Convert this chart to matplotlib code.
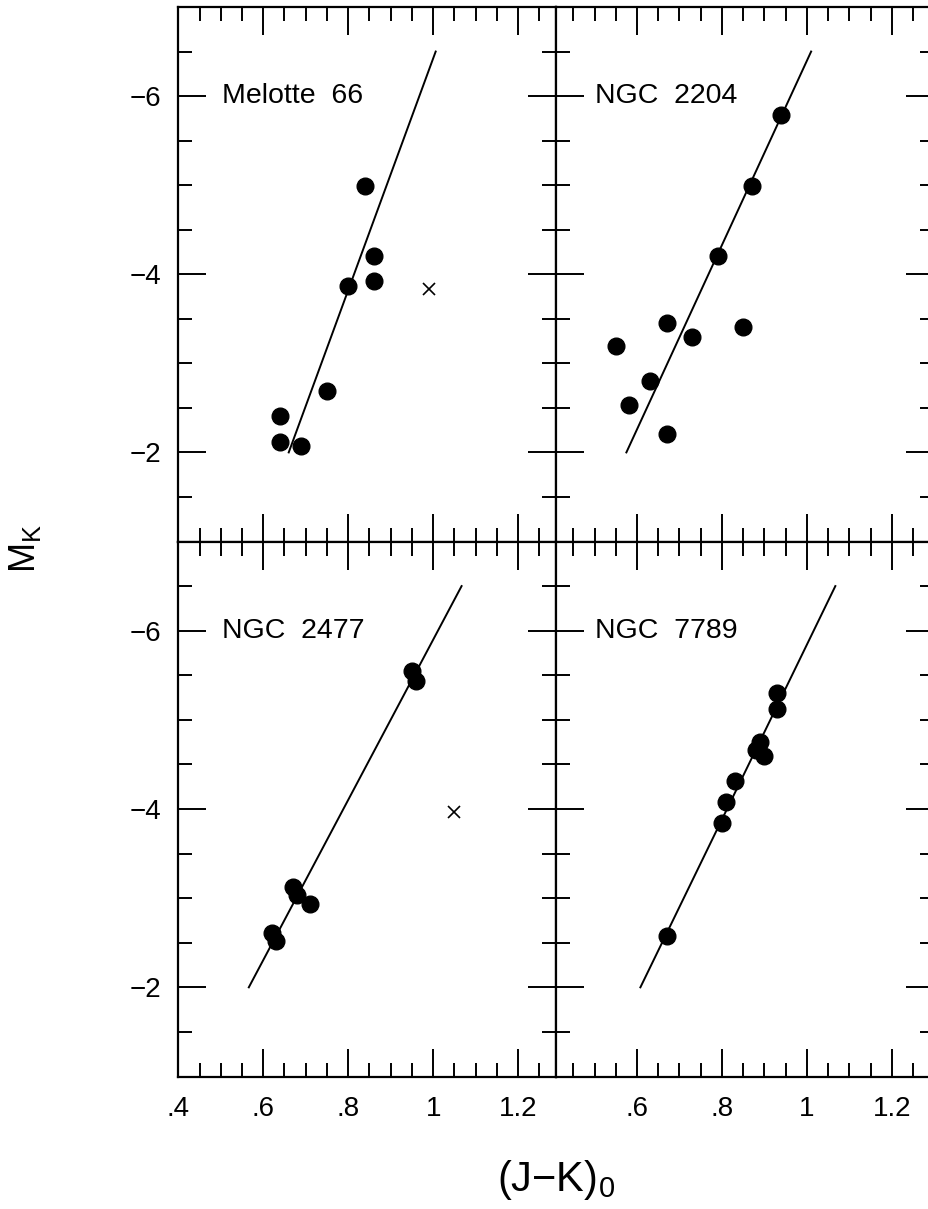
import numpy as np
import matplotlib
matplotlib.use('Agg')
import matplotlib.pyplot as plt
from matplotlib.ticker import FixedLocator, FixedFormatter, MultipleLocator

plt.rcParams['font.family'] = ['Liberation Sans', 'DejaVu Sans']
plt.rcParams['mathtext.fontset'] = 'custom'
plt.rcParams['mathtext.rm'] = 'Liberation Sans'
plt.rcParams['mathtext.it'] = 'Liberation Sans'

# dados: (J-K)0 e M_K de cada aglomerado
mel66_jk = [0.84, 0.86, 0.86, 0.80, 0.75, 0.64, 0.64, 0.69]
mel66_mk = [-4.99, -4.20, -3.92, -3.87, -2.69, -2.41, -2.12, -2.07]
mel66_cruz_jk = [0.99]
mel66_cruz_mk = [-3.83]
mel66_reta_jk = [0.66, 1.006]
mel66_reta_mk = [-2.0, -6.5]

ngc2204_jk = [0.94, 0.87, 0.79, 0.67, 0.73, 0.85, 0.55, 0.63, 0.58, 0.67]
ngc2204_mk = [-5.79, -4.99, -4.21, -3.45, -3.30, -3.41, -3.19, -2.80, -2.53, -2.21]
ngc2204_reta_jk = [0.575, 1.01]
ngc2204_reta_mk = [-2.0, -6.5]

ngc2477_jk = [0.95, 0.96, 0.67, 0.68, 0.71, 0.62, 0.63]
ngc2477_mk = [-5.55, -5.43, -3.12, -3.03, -2.93, -2.61, -2.52]
ngc2477_cruz_jk = [1.05]
ngc2477_cruz_mk = [-3.97]
ngc2477_reta_jk = [0.566, 1.067]
ngc2477_reta_mk = [-2.0, -6.5]

ngc7789_jk = [0.93, 0.93, 0.89, 0.88, 0.90, 0.83, 0.81, 0.80, 0.67]
ngc7789_mk = [-5.30, -5.12, -4.75, -4.66, -4.60, -4.31, -4.08, -3.84, -2.58]
ngc7789_reta_jk = [0.608, 1.067]
ngc7789_reta_mk = [-2.0, -6.5]

xticks = [0.4, 0.6, 0.8, 1.0, 1.2]
xtick_labels = ['.4', '.6', '.8', '1', '1.2']
yticks = [-6, -4, -2]
ytick_labels = ['\u22126', '\u22124', '\u22122']

W, H = 929, 1209
fig = plt.figure(figsize=(W / 100, H / 100), dpi=100)


def eixo(x0, y0, w, h):
    # converte pixels (origem no topo) para fração da figura
    return fig.add_axes([x0 / W, 1 - (y0 + h) / H, w / W, h / H])


esq, meio, larg = 178.3, 556.3, 378.0
topo, limite, fundo = 7.0, 541.5, 1076.5

paineis = [
    (eixo(esq, topo, larg, limite - topo), (0.40, 1.29), 'Melotte  66',
     mel66_jk, mel66_mk, mel66_reta_jk, mel66_reta_mk, mel66_cruz_jk, mel66_cruz_mk, True, False, 0.115),
    (eixo(meio, topo, larg, limite - topo), (0.41, 1.30), 'NGC  2204',
     ngc2204_jk, ngc2204_mk, ngc2204_reta_jk, ngc2204_reta_mk, None, None, False, False, 0.102),
    (eixo(esq, limite, larg, fundo - limite), (0.40, 1.29), 'NGC  2477',
     ngc2477_jk, ngc2477_mk, ngc2477_reta_jk, ngc2477_reta_mk, ngc2477_cruz_jk, ngc2477_cruz_mk, True, True, 0.115),
    (eixo(meio, limite, larg, fundo - limite), (0.41, 1.30), 'NGC  7789',
     ngc7789_jk, ngc7789_mk, ngc7789_reta_jk, ngc7789_reta_mk, None, None, False, True, 0.102),
]

for ax, xlim, nome, jk, mk, rjk, rmk, cjk, cmk, rot_y, rot_x, tx in paineis:
    ax.plot(rjk, rmk, color='black', lw=1.4, zorder=2)
    ax.plot(jk, mk, 'o', color='black', ms=12, zorder=3)
    if cjk is not None:
        ax.plot(cjk, cmk, 'x', color='black', ms=9, mew=1.2, zorder=3)
    ax.text(tx, -6, nome, transform=ax.get_yaxis_transform(),
            fontsize=20.5, ha='left', va='center')

    ax.set_xlim(*xlim)
    ax.set_ylim(-1, -7)
    ax.xaxis.set_major_locator(FixedLocator(xticks))
    ax.xaxis.set_major_formatter(FixedFormatter(xtick_labels))
    ax.xaxis.set_minor_locator(MultipleLocator(0.05))
    ax.yaxis.set_major_locator(FixedLocator(yticks))
    ax.yaxis.set_major_formatter(FixedFormatter(ytick_labels))
    ax.yaxis.set_minor_locator(MultipleLocator(0.5))

    ax.tick_params(which='both', direction='in', top=True, right=True, width=1.4)
    ax.tick_params(which='major', length=20)
    ax.tick_params(which='minor', length=10)
    ax.tick_params(axis='x', labelsize=20, pad=14, labelbottom=rot_x)
    ax.tick_params(axis='y', labelsize=20, pad=12, labelleft=rot_y)
    for s in ax.spines.values():
        s.set_linewidth(1.6)

fig.text(25 / W, 1 - 548 / H, r'M$_{\mathrm{K}}$', rotation=90,
         fontsize=26, ha='center', va='center')
fig.text(556 / W, 1 - 1180 / H, r'(J$-$K)$_{0}$',
         fontsize=30, ha='center', va='center')

fig.savefig('out.png', dpi=100)
